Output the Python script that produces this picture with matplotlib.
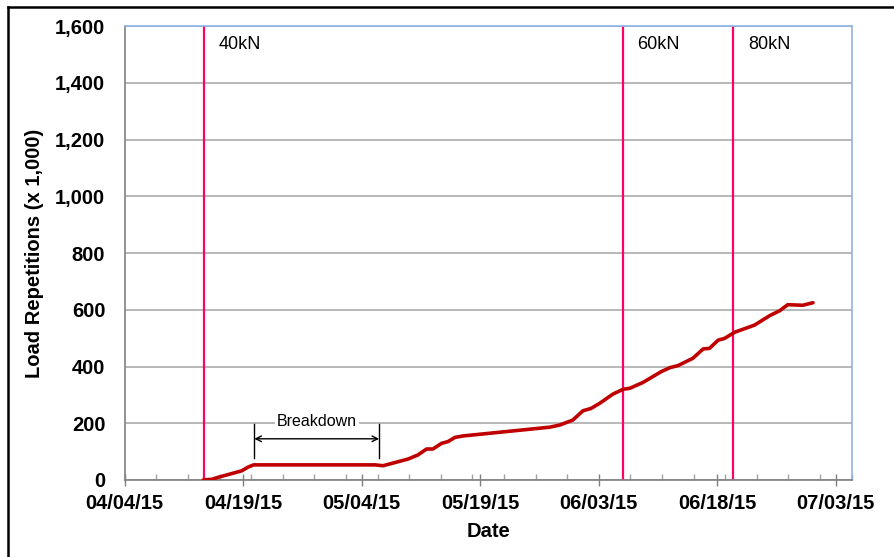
import pandas as pd
import matplotlib
matplotlib.use('Agg')
import matplotlib.pyplot as plt
import matplotlib.dates as mdates
from matplotlib.ticker import FixedLocator, FuncFormatter
from matplotlib.lines import Line2D

plt.rcParams['font.family'] = ['Liberation Sans', 'DejaVu Sans']

start = pd.Timestamp('2015-04-04')

# 累计加载次数 (天数从 04/04/15 起算, 单位 x1000)
days = [9.94, 11.0, 11.8, 14.8, 15.6, 16.3, 31.7, 32.7, 35.9, 37.1, 38.2, 39.0, 40.1, 40.9,
        41.8, 42.8, 53.8, 55.1, 56.7, 58.0, 59.0, 60.1, 61.8, 63.1, 63.9, 65.6,
        67.9, 69.0, 70.0, 71.9, 73.2, 74.0, 75.1, 75.9, 77.2, 79.7, 81.6, 82.9,
        83.9, 85.8, 87.1]
loads = [0, 2, 9, 32, 45, 53, 53, 50, 74, 88, 109, 109, 129, 135,
         150, 155, 186, 194, 211, 244, 252, 270, 303, 320, 323, 344,
         382, 396, 403, 429, 462, 464, 493, 499, 521, 546, 579, 597,
         618, 616, 625]

# 荷载等级切换时间
stage_days = [10, 63, 77]
stage_labels = ['40kN', '60kN', '80kN']

# 设备故障时段
breakdown_days = [16.4, 32.2]

def to_date(d):
    return mdates.date2num(start + pd.to_timedelta(d, unit='D'))

x = [to_date(d) for d in days]

fig = plt.figure(figsize=(8.94, 5.57), dpi=100)
ax = fig.add_axes([0.1395, 0.1384, 0.8132, 0.8144])

ax.set_xlim(to_date(0), to_date(92))
ax.set_ylim(0, 1600)

# 水平网格线
ax.set_yticks(range(0, 1601, 200))
ax.yaxis.set_major_formatter(FuncFormatter(lambda v, p: f'{int(v):,}'))
ax.grid(axis='y', color='#ABABAB', linewidth=1.2)
ax.set_axisbelow(True)

for d, lab in zip(stage_days, stage_labels):
    ax.axvline(to_date(d), color='#FF0066', linewidth=1.6, zorder=2)
    ax.text(to_date(d + 1.9), 1535, lab, fontsize=13, va='center', ha='left')

ax.plot(x, loads, color='#C00000', linewidth=2.6, solid_capstyle='round',
        solid_joinstyle='round', zorder=3)

# Breakdown 标注
b0, b1 = to_date(breakdown_days[0]), to_date(breakdown_days[1])
ax.plot([b0, b0], [79, 198], color='black', linewidth=1)
ax.plot([b1, b1], [79, 198], color='black', linewidth=1)
ax.annotate('', xy=(b0, 145), xytext=(b1, 145),
            arrowprops=dict(arrowstyle='<->', color='black', lw=1,
                            shrinkA=0, shrinkB=0))
ax.text((b0 + b1) / 2, 206, 'Breakdown', fontsize=11.5, ha='center', va='center',
        bbox=dict(facecolor='white', edgecolor='none', pad=1.5), zorder=4)

# 坐标轴刻度：主刻度15天，次刻度4天
major = pd.date_range('2015-04-04', '2015-07-03', freq='15D')
minor = pd.date_range('2015-04-04', '2015-07-05', freq='4D')
ax.xaxis.set_major_locator(FixedLocator(mdates.date2num(major)))
ax.xaxis.set_minor_locator(FixedLocator(mdates.date2num(minor)))
ax.xaxis.set_major_formatter(mdates.DateFormatter('%m/%d/%y'))
ax.tick_params(axis='x', which='major', direction='inout', length=9, width=1,
               color='#808080', pad=6)
ax.tick_params(axis='x', which='minor', direction='in', length=4, width=1,
               color='#A0A0A0')
ax.tick_params(axis='y', length=0, pad=14)
for lbl in ax.get_xticklabels() + ax.get_yticklabels():
    lbl.set_fontsize(14.5)
    lbl.set_fontweight('bold')

ax.set_xlabel('Date', fontsize=14.5, fontweight='bold', labelpad=6)
ax.set_ylabel('Load Repetitions (x 1,000)', fontsize=14.5, fontweight='bold', labelpad=8)

ax.spines['left'].set_color('#808080')
ax.spines['bottom'].set_color('#808080')
ax.spines['top'].set_color('#8EB4E3')
ax.spines['right'].set_color('#8EB4E3')
for s in ax.spines.values():
    s.set_linewidth(1.2)

# 外边框
fig.add_artist(Line2D([8 / 894, 8 / 894], [0, 1 - 7 / 557], transform=fig.transFigure,
                      color='black', linewidth=1.8))
fig.add_artist(Line2D([8 / 894, 1], [1 - 7 / 557, 1 - 7 / 557], transform=fig.transFigure,
                      color='black', linewidth=1.8))

fig.savefig('out.png', dpi=100)
